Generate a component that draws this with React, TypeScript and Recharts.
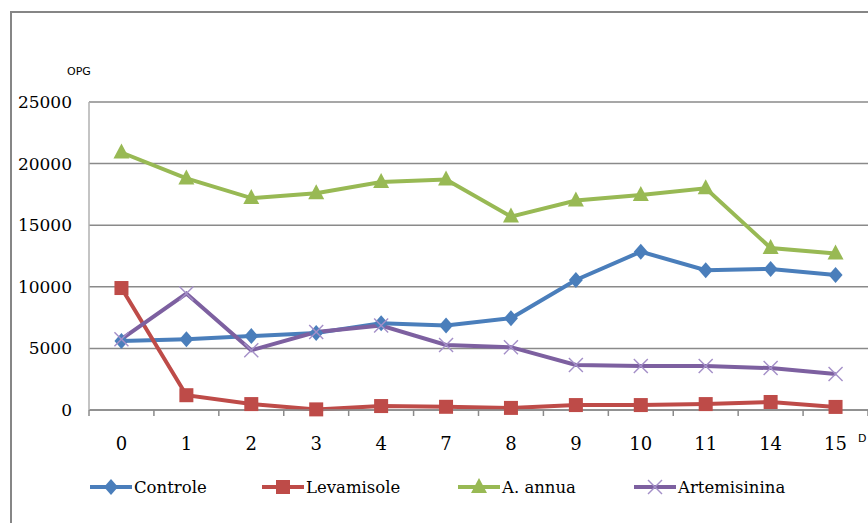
import React from 'react'
import { LineChart, Line, XAxis, YAxis, CartesianGrid } from 'recharts'

const days = ['0', '1', '2', '3', '4', '7', '8', '9', '10', '11', '14', '15']
const controle = [5600, 5750, 6000, 6250, 7050, 6850, 7450, 10550, 12850, 11350, 11450, 10950]
const levamisole = [9900, 1200, 480, 50, 320, 260, 170, 400, 400, 480, 650, 250]
const annua = [20900, 18800, 17200, 17600, 18500, 18700, 15700, 17000, 17450, 18000, 13150, 12700]
const artemisinina = [5750, 9450, 4850, 6330, 6850, 5280, 5100, 3650, 3580, 3580, 3400, 2920]
const yTicks = [0, 5000, 10000, 15000, 20000, 25000]

const data = days.map((d, i) => ({
  day: d,
  controle: controle[i],
  levamisole: levamisole[i],
  annua: annua[i],
  artemisinina: artemisinina[i],
}))

const BLUE = '#4A7EBB'
const RED = '#BE4B48'
const GREEN = '#98B954'
const PURPLE = '#7D60A0'
const CROSS = '#A48FC8'
const GRID = '#8a8a8a'
const SERIF = 'DejaVu Serif'
const SANS = 'DejaVu Sans'

const W = 868
const H = 523
const LEFT = 89
const TOP = 102
const BOTTOM = 113
const BAND = (W - LEFT) / days.length

const Diamond = ({ cx, cy }: any) => (
  <path d={`M${cx},${cy - 8}L${cx + 7},${cy}L${cx},${cy + 8}L${cx - 7},${cy}Z`} fill={BLUE} />
)
const Square = ({ cx, cy }: any) => <rect x={cx - 7} y={cy - 7} width={14} height={14} fill={RED} />
const Triangle = ({ cx, cy }: any) => (
  <path d={`M${cx},${cy - 9}L${cx + 8},${cy + 6}L${cx - 8},${cy + 6}Z`} fill={GREEN} />
)
const Cross = ({ cx, cy }: any) => (
  <g stroke={CROSS} strokeWidth={1.4}>
    <line x1={cx - 7} y1={cy - 7} x2={cx + 7} y2={cy + 7} />
    <line x1={cx - 7} y1={cy + 7} x2={cx + 7} y2={cy - 7} />
  </g>
)

const YTick = ({ y, payload }: any) => (
  <text x={72} y={y} dy={6} textAnchor="end" fontFamily={SERIF} fontSize={17} fill="#000">
    {payload.value}
  </text>
)

const XTick = ({ x, y, payload, index }: any) => (
  <g>
    <line x1={x - BAND / 2} y1={y - 8} x2={x - BAND / 2} y2={y - 2} stroke={GRID} strokeWidth={1.5} />
    {index === days.length - 1 && (
      <line x1={x + BAND / 2} y1={y - 8} x2={x + BAND / 2} y2={y - 2} stroke={GRID} strokeWidth={1.5} />
    )}
    <text x={x} y={y + 32} textAnchor="middle" fontFamily={SERIF} fontSize={18} fill="#000">
      {payload.value}
    </text>
  </g>
)

const legendItems = [
  { label: 'Controle', color: BLUE, x: 90, Mark: Diamond },
  { label: 'Levamisole', color: RED, x: 262, Mark: Square },
  { label: 'A. annua', color: GREEN, x: 458, Mark: Triangle },
  { label: 'Artemisinina', color: PURPLE, x: 634, Mark: Cross },
]

export default function App() {
  return (
    <div style={{ position: 'absolute', left: 0, top: 0, width: W, height: H, background: '#fff', overflow: 'hidden' }}>
      <div
        style={{
          position: 'absolute',
          left: 10,
          top: 11,
          width: W + 20,
          height: H + 20,
          border: '2px solid #868686',
          boxSizing: 'border-box',
        }}
      />
      <div style={{ position: 'absolute', left: 0, top: 0 }}>
        <LineChart width={W} height={H} data={data} margin={{ top: TOP, right: 0, bottom: BOTTOM - 40, left: 0 }}>
          <CartesianGrid horizontal vertical={false} stroke={GRID} strokeWidth={1.5} />
          <XAxis
            dataKey="day"
            height={40}
            padding={{ left: BAND / 2, right: BAND / 2 }}
            axisLine={{ stroke: GRID, strokeWidth: 1.5 }}
            tickLine={false}
            tick={<XTick />}
            interval={0}
          />
          <YAxis
            width={LEFT}
            domain={[0, 25000]}
            ticks={yTicks}
            axisLine={{ stroke: '#b0b0b0', strokeWidth: 1.5 }}
            tickLine={false}
            tick={<YTick />}
          />
          <Line dataKey="controle" stroke={BLUE} strokeWidth={4} dot={<Diamond />} isAnimationActive={false} />
          <Line dataKey="levamisole" stroke={RED} strokeWidth={4} dot={<Square />} isAnimationActive={false} />
          <Line dataKey="annua" stroke={GREEN} strokeWidth={4} dot={<Triangle />} isAnimationActive={false} />
          <Line dataKey="artemisinina" stroke={PURPLE} strokeWidth={4} dot={<Cross />} isAnimationActive={false} />
        </LineChart>
      </div>
      <svg width={W} height={H} style={{ position: 'absolute', left: 0, top: 0, pointerEvents: 'none' }}>
        <text x={67} y={75} fontFamily={SANS} fontSize={11} fill="#000">OPG</text>
        <text x={858} y={442} fontFamily={SANS} fontSize={11} fill="#000">D</text>
        {legendItems.map(({ label, color, x, Mark }) => (
          <g key={label}>
            <line x1={x} y1={487} x2={x + 42} y2={487} stroke={color} strokeWidth={4} />
            <Mark cx={x + 21} cy={487} />
            <text x={x + 44} y={493} fontFamily={SERIF} fontSize={16.5} fill="#000">{label}</text>
          </g>
        ))}
      </svg>
    </div>
  )
}
